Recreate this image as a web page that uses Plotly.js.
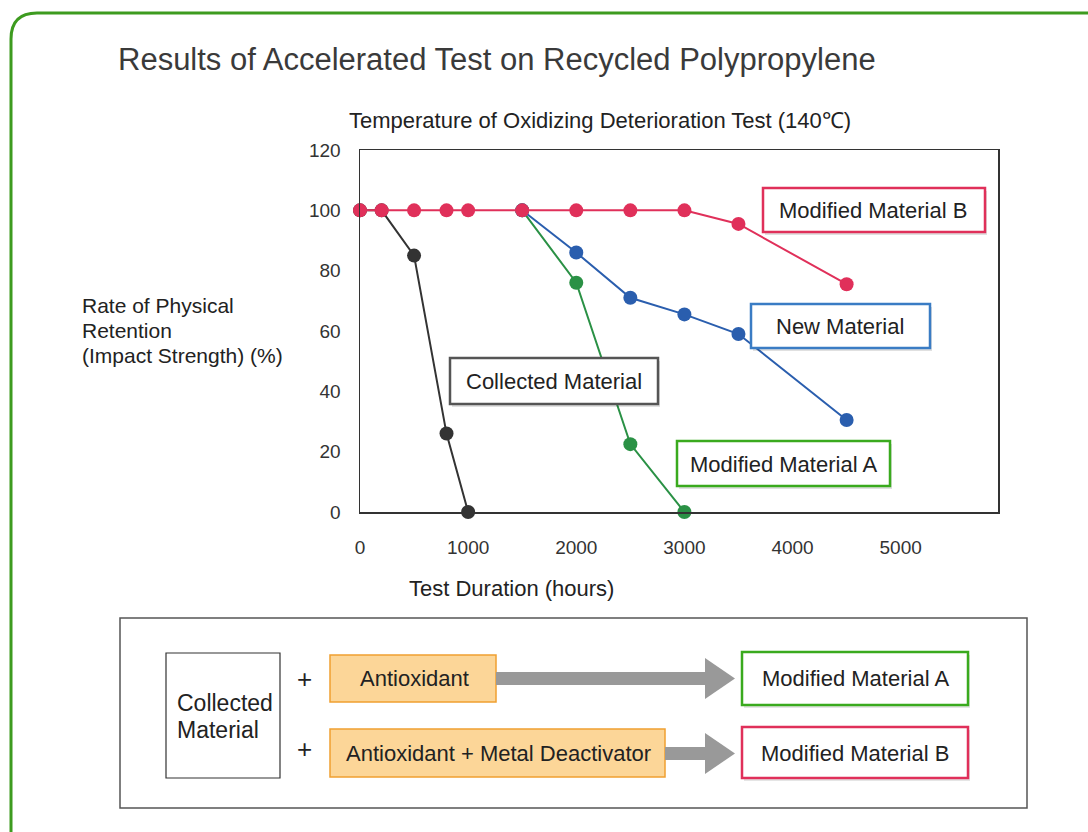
<!DOCTYPE html>
<html>
<head>
<meta charset="utf-8">
<script src="https://cdn.plot.ly/plotly-3.0.1.min.js"></script>
<style>html,body{margin:0;padding:0;background:#fff;}#chart{width:1088px;height:832px;}</style>
</head>
<body>
<div id="chart"></div>
<script>
// ---- data ----
const seriesNames = ["Collected Material", "Modified Material A", "New Material", "Modified Material B"];
const collectedHours = [0, 200, 500, 800, 1000];
const collectedRetention = [100, 100, 85, 26, 0];
const modAHours = [1500, 2000, 2500, 3000];
const modARetention = [100, 76, 22.5, 0];
const newHours = [1500, 2000, 2500, 3000, 3500, 4500];
const newRetention = [100, 86, 71, 65.5, 59, 30.5];
const modBHours = [0, 200, 500, 800, 1000, 1500, 2000, 2500, 3000, 3500, 4500];
const modBRetention = [100, 100, 100, 100, 100, 100, 100, 100, 100, 95.5, 75.5];
const xTicks = [0, 1000, 2000, 3000, 4000, 5000];
const yTicks = [0, 20, 40, 60, 80, 100, 120];

// ---- layout geometry ----
const W = 1088, H = 832, ML = 360, MR = 90, MT = 150, MB = 320;
const PW = W - ML - MR, PH = H - MT - MB;
const px = x => (x - ML) / PW;
const py = y => (H - MB - y) / PH;

const C = {black: "#333333", green: "#2a9145", blue: "#2a5eae", red: "#e0305a",
           bGreen: "#3aaa1e", bBlue: "#3a7cc4", bRed: "#e0305a", bGray: "#555555"};
const FONT = "Liberation Sans, Arial, sans-serif";

function trace(x, y, color, name) {
  return {x: x, y: y, name: name, type: "scatter", mode: "lines+markers",
    line: {color: color, width: 2}, marker: {color: color, size: 14},
    cliponaxis: false, hoverinfo: "x+y"};
}
const data = [
  trace(collectedHours, collectedRetention, C.black, seriesNames[0]),
  trace(modAHours, modARetention, C.green, seriesNames[1]),
  trace(newHours, newRetention, C.blue, seriesNames[2]),
  trace(modBHours, modBRetention, C.red, seriesNames[3])
];

const shapes = [];
function rect(x0, y0, x1, y1, line, fill, w, layer) {
  shapes.push({type: "rect", xref: "paper", yref: "paper", x0: px(x0), x1: px(x1), y0: py(y1), y1: py(y0),
    line: {color: line, width: w === undefined ? 1.5 : w}, fillcolor: fill || "rgba(0,0,0,0)", layer: layer || "above"});
}
function path(pts, fill, line, w) {
  let d = "";
  pts.forEach((p, i) => { d += (i ? " L" : "M") + px(p[0]) + "," + py(p[1]); });
  d += " Z";
  shapes.push({type: "path", xref: "paper", yref: "paper", path: d, fillcolor: fill,
    line: {color: line || fill, width: w || 0}, layer: "above"});
}
// outer green rounded frame
(function () {
  const x0 = 11, y0 = 13, r = 26, xe = 1100, ye = 850;
  const d = "M" + px(x0) + "," + py(ye) + " L" + px(x0) + "," + py(y0 + r) +
    " Q" + px(x0) + "," + py(y0) + " " + px(x0 + r) + "," + py(y0) + " L" + px(xe) + "," + py(y0);
  shapes.push({type: "path", xref: "paper", yref: "paper", path: d, line: {color: "#3d9b1f", width: 3}, layer: "above"});
})();

// chart label boxes (shadow + box)
function labelBox(x0, y0, x1, y1, color) {
  rect(x0 + 2, y0 + 3, x1 + 2, y1 + 3, "rgba(0,0,0,0)", "rgba(0,0,0,0.12)", 0);
  rect(x0, y0, x1, y1, color, "#ffffff", 2.5);
}
labelBox(763, 188, 985, 232, C.bRed);
labelBox(751, 304, 930, 348, C.bBlue);
labelBox(450, 358, 658, 404, C.bGray);
labelBox(677, 441, 890, 486, C.bGreen);

// bottom diagram
rect(120, 618, 1027, 808, "#555555", "#ffffff", 1.5);
rect(166, 653, 280, 778, "#333333", "#ffffff", 1.2);
rect(330, 655, 496, 702, "#f0a030", "#fcd698", 1.5);
rect(330, 729, 665, 777, "#f0a030", "#fcd698", 1.5);
// arrows
rect(496, 672, 706, 685, "rgba(0,0,0,0)", "#999999", 0);
path([[705, 658], [735, 678.5], [705, 699]], "#999999");
rect(665, 747, 706, 760, "rgba(0,0,0,0)", "#999999", 0);
path([[705, 733], [735, 753.5], [705, 774]], "#999999");
rect(742 + 2, 652 + 3, 968 + 2, 705 + 3, "rgba(0,0,0,0)", "rgba(0,0,0,0.10)", 0);
rect(742, 652, 968, 705, C.bGreen, "#ffffff", 2.5);
rect(742 + 2, 727 + 3, 968 + 2, 778 + 3, "rgba(0,0,0,0)", "rgba(0,0,0,0.10)", 0);
rect(742, 727, 968, 778, C.bRed, "#ffffff", 2.5);

const annotations = [];
function txt(t, x, y, size, opts) {
  annotations.push(Object.assign({text: t, xref: "paper", yref: "paper", x: px(x), y: py(y),
    showarrow: false, xanchor: "center", yanchor: "middle",
    font: {family: FONT, size: size, color: "#222222"}}, opts || {}));
}
txt("Temperature of Oxidizing Deterioration Test (140℃)", 600, 120, 22);
txt("Rate of Physical", 80, 305, 21, {xanchor: "left"});
txt("Retention", 80, 330, 21, {xanchor: "left"});
txt("(Impact Strength) (%)", 80, 355, 21, {xanchor: "left"});
txt("Test Duration (hours)", 511, 588, 22);
txt("Modified Material B", 873, 210, 22);
txt("New Material", 840, 326, 22);
txt("Collected Material", 554, 381, 22);
txt("Modified Material A", 783, 464, 22);
// diagram texts
txt("Collected", 175, 703, 23, {xanchor: "left"});
txt("Material", 175, 730, 23, {xanchor: "left"});
txt("+", 304, 679, 26);
txt("+", 304, 749, 26);
txt("Antioxidant", 414, 678, 22);
txt("Antioxidant + Metal Deactivator", 498, 753, 22);
txt("Modified Material A", 855, 678, 22);
txt("Modified Material B", 855, 753, 22);

const layout = {
  width: W, height: H,
  margin: {l: ML, r: MR, t: MT, b: MB, pad: 0},
  paper_bgcolor: "#ffffff", plot_bgcolor: "#ffffff",
  showlegend: false,
  font: {family: FONT, color: "#222222"},
  title: {text: "Results of Accelerated Test on Recycled Polypropylene",
    font: {family: FONT, size: 31, color: "#3a3a3a"},
    xref: "container", yref: "container", x: 118 / W, xanchor: "left", y: 1 - 59 / H, yanchor: "middle"},
  xaxis: {range: [0, 5900], tickvals: xTicks, ticktext: xTicks.map(String), showgrid: false, zeroline: false,
    showline: true, mirror: true, linecolor: "#333333", linewidth: 1.5, ticks: "",
    tickfont: {family: FONT, size: 19, color: "#333333"}, ticklabelstandoff: 18},
  yaxis: {range: [0, 120], tickvals: yTicks, ticktext: yTicks.map(String), showgrid: false, zeroline: false,
    showline: true, mirror: true, linecolor: "#333333", linewidth: 1.5, ticks: "",
    tickfont: {family: FONT, size: 19, color: "#333333"}, ticklabelstandoff: 14},
  shapes: shapes,
  annotations: annotations
};
Plotly.newPlot("chart", data, layout, {displayModeBar: false, staticPlot: true});
</script>
</body>
</html>
